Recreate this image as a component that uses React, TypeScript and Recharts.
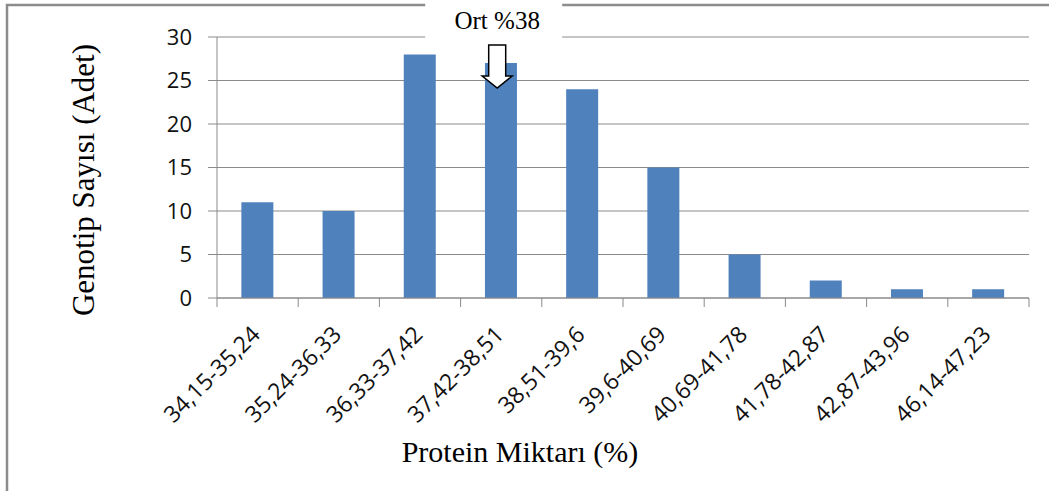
import { BarChart, Bar, XAxis, YAxis, CartesianGrid, ReferenceDot, Label } from 'recharts';

const categories = [
  '34,15-35,24',
  '35,24-36,33',
  '36,33-37,42',
  '37,42-38,51',
  '38,51-39,6',
  '39,6-40,69',
  '40,69-41,78',
  '41,78-42,87',
  '42,87-43,96',
  '46,14-47,23',
];
const counts = [11, 10, 28, 27, 24, 15, 5, 2, 1, 1];
const yTicks = [0, 5, 10, 15, 20, 25, 30];
const meanCategory = '37,42-38,51';
const meanText = 'Ort %38';
const xTitle = 'Protein Miktarı (%)';
const yTitle = 'Genotip Sayısı (Adet)';

const data = categories.map((name, i) => ({ name, count: counts[i] }));

const W = 1049;
const H = 491;
const margin = { top: 37, right: 20, bottom: 0, left: 0 };
const Y_AXIS_W = 217;
const X_AXIS_H = H - 298;
const band = (W - margin.right - Y_AXIS_W) / categories.length;
const GRID = '#8a8a8a';
const FRAME = '#8c8c8c';
const SANS = 'Open Sans, sans-serif';
const SERIF = 'Liberation Serif, Times New Roman, serif';

function XTick({ x, y, payload, index }: any) {
  const half = band / 2;
  const tx = x + 4;
  const ty = y + 38;
  return (
    <g>
      <line x1={x - half} y1={y} x2={x - half} y2={y + 9} stroke={GRID} />
      {index === categories.length - 1 && (
        <line x1={x + half} y1={y} x2={x + half} y2={y + 9} stroke={GRID} />
      )}
      <text
        x={tx}
        y={ty}
        transform={`rotate(-45, ${tx}, ${ty})`}
        textAnchor="end"
        fontFamily={SANS}
        fontSize={23}
        fill="#111"
      >
        {payload.value}
      </text>
    </g>
  );
}

// "Ort %38" note with the hollow down arrow, anchored on the top of the plot
function MeanMarker({ cx, cy }: any) {
  const ax = cx - 4;
  return (
    <g>
      <rect x={ax - 72} y={cy - 37} width={137} height={40} fill="#fff" />
      <text x={ax} y={cy - 8} textAnchor="middle" fontFamily={SERIF} fontSize={25} fill="#000">
        {meanText}
      </text>
      <path
        d={`M${ax - 8.5},${cy + 8} h17 v31 h6.5 l-15,12 l-15,-12 h6.5 z`}
        fill="#fff"
        stroke="#000"
        strokeWidth={1.5}
      />
    </g>
  );
}

export default function App() {
  return (
    <div style={{ position: 'absolute', left: 0, top: 0, width: W, height: H, background: '#fff', overflow: 'hidden' }}>
      <BarChart width={W} height={H} data={data} margin={margin} barCategoryGap="30%">
        <CartesianGrid vertical={false} stroke={GRID} />
        <XAxis
          dataKey="name"
          height={X_AXIS_H}
          interval={0}
          tickLine={false}
          tickSize={0}
          tickMargin={0}
          axisLine={{ stroke: GRID }}
          tick={<XTick />}
        >
          <Label
            content={() => (
              <text x={520} y={462} textAnchor="middle" fontFamily={SERIF} fontSize={30} fill="#000">
                {xTitle}
              </text>
            )}
          />
        </XAxis>
        <YAxis
          width={Y_AXIS_W}
          domain={[0, 30]}
          ticks={yTicks}
          interval={0}
          tickSize={9}
          tickMargin={16}
          axisLine={{ stroke: GRID }}
          tickLine={{ stroke: GRID }}
          tick={{ fill: '#111', fontSize: 22, fontFamily: SANS }}
        >
          <Label
            content={() => (
              <g>
                {/* chart frame: only the top and left edges show in the picture */}
                <path d={`M7,${H} V5 H${W}`} fill="none" stroke={FRAME} strokeWidth={2.5} />
                <text
                  x={94}
                  y={180}
                  transform="rotate(-90, 94, 180)"
                  textAnchor="middle"
                  fontFamily={SERIF}
                  fontSize={31}
                  fill="#000"
                >
                  {yTitle}
                </text>
              </g>
            )}
          />
        </YAxis>
        <Bar dataKey="count" fill="#4F81BD" isAnimationActive={false} />
        <ReferenceDot x={meanCategory} y={30} r={0} shape={<MeanMarker />} />
      </BarChart>
    </div>
  );
}
